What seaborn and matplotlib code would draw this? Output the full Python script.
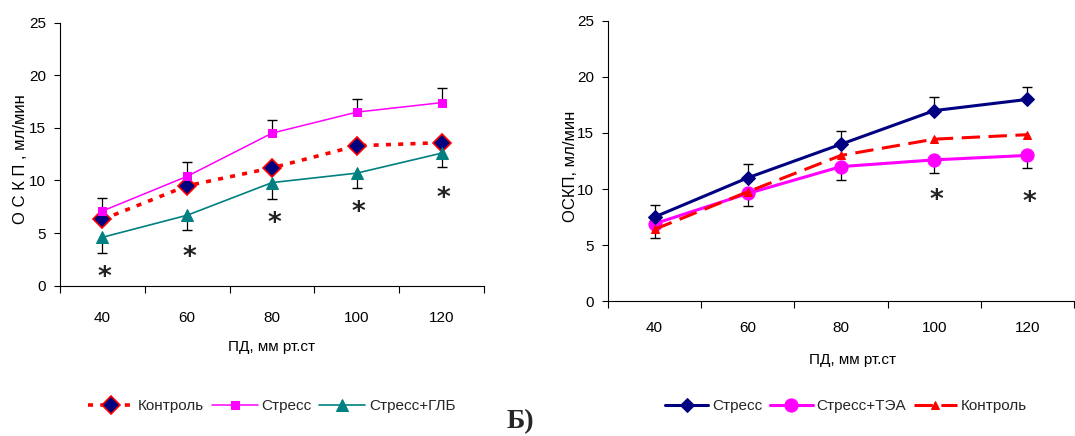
import numpy as np
import matplotlib
matplotlib.use("Agg")
import matplotlib.pyplot as plt
from matplotlib.ticker import FixedLocator, NullFormatter, FixedFormatter
from matplotlib.transforms import offset_copy
import seaborn as sns

# ---------------- data ----------------
categories = ["40", "60", "80", "100", "120"]

# panel A
control_a = [6.3, 9.5, 11.2, 13.3, 13.6]
stress_a = [7.1, 10.4, 14.5, 16.5, 17.4]
stress_a_se = [1.2, 1.35, 1.25, 1.2, 1.4]
glb_a = [4.6, 6.7, 9.8, 10.7, 12.6]
glb_a_se = [1.5, 1.45, 1.6, 1.45, 1.35]
star_a_idx = [0, 1, 2, 3, 4]
star_a_y = [1.3, 3.2, 6.4, 7.5, 8.8]

# panel B
stress_b = [7.5, 11.0, 14.0, 17.0, 18.0]
stress_b_se = [1.1, 1.25, 1.2, 1.2, 1.15]
tea_b = [6.9, 9.6, 12.0, 12.6, 13.0]
tea_b_se = [1.25, 1.1, 1.2, 1.2, 1.15]
control_b = [6.4, 9.75, 13.0, 14.45, 14.85]
star_b_idx = [3, 4]
star_b_y = [9.5, 9.3]

labels_a = ["Контроль", "Стресс", "Стресс+ГЛБ"]
labels_b = ["Стресс", "Стресс+ТЭА", "Контроль"]
xlabel = "ПД, мм рт.ст"
ylabel_a = "О С К П , мл/мин"
ylabel_b = "ОСКП, мл/мин"
yticks = [0, 5, 10, 15, 20, 25]

# ---------------- style ----------------
sns.set_theme(style="ticks")
FONT = ["Liberation Sans", "DejaVu Sans"]
plt.rcParams["font.family"] = FONT
plt.rcParams["axes.linewidth"] = 0.8
plt.rcParams["axes.edgecolor"] = "black"
FS = 11

fig = plt.figure(figsize=(10.75, 4.36), dpi=100)
W, H = 1075, 436
ax_a = fig.add_axes([60 / W, (H - 285.7) / H, 424 / W, 263 / H])
ax_b = fig.add_axes([608 / W, (H - 301) / H, 466 / W, 280 / H])

pos = np.arange(len(categories))


def err_up(ax, y, se):
    y = np.asarray(y)
    se = np.asarray(se)
    ax.vlines(pos, y, y + se, color="black", lw=0.9, zorder=1)
    ax.plot(pos, y + se, ls="none", marker="_", ms=7, mew=1.0, color="black", zorder=1)


def err_down(ax, y, se):
    y = np.asarray(y)
    se = np.asarray(se)
    ax.vlines(pos, y - se, y, color="black", lw=0.9, zorder=1)
    ax.plot(pos, y - se, ls="none", marker="_", ms=7, mew=1.0, color="black", zorder=1)


def stars(ax, idx, ys):
    tr = offset_copy(ax.transData, fig=fig, x=2, y=-6, units="dots")
    for i, yy in zip(idx, ys):
        ax.text(pos[i], yy, "*", ha="center", va="center", fontsize=19,
                fontweight="bold", family="DejaVu Sans", color="#222222",
                transform=tr)


def style_axes(ax, tickpad, ylabel):
    sns.despine(ax=ax)
    ax.set_xlim(-0.5, len(categories) - 0.5)
    ax.set_ylim(0, 25)
    ax.set_yticks(yticks)
    ax.tick_params(axis="y", labelsize=FS, length=4, width=0.8, pad=6, colors="black")
    ax.xaxis.set_major_locator(FixedLocator(np.arange(len(categories) + 1) - 0.5))
    ax.xaxis.set_major_formatter(NullFormatter())
    ax.xaxis.set_minor_locator(FixedLocator(pos))
    ax.xaxis.set_minor_formatter(FixedFormatter(categories))
    ax.tick_params(axis="x", which="major", length=5, width=0.8, color="black")
    ax.tick_params(axis="x", which="minor", length=0, labelsize=FS, pad=tickpad, labelcolor="black")
    ax.set_xlabel(xlabel, fontsize=FS, color="black")
    ax.set_ylabel(ylabel, fontsize=12, color="black")
    ax.grid(False)
    ax.set_facecolor("white")


# ---------------- panel A ----------------
err_up(ax_a, stress_a, stress_a_se)
err_down(ax_a, glb_a, glb_a_se)
sns.lineplot(x=pos, y=control_a, ax=ax_a, color="red", lw=2.6,
             linestyle=(0, (1.4, 2.0)), marker="D", markersize=9,
             markerfacecolor="#000080", markeredgecolor="red", markeredgewidth=1.2,
             label=labels_a[0], zorder=3)
sns.lineplot(x=pos, y=stress_a, ax=ax_a, color="#FF00FF", lw=1.1,
             marker="s", markersize=6, markerfacecolor="#FF00FF",
             markeredgecolor="#FF00FF", label=labels_a[1], zorder=4)
sns.lineplot(x=pos, y=glb_a, ax=ax_a, color="#008080", lw=1.2,
             marker="^", markersize=9, markerfacecolor="#008080",
             markeredgecolor="#008080", label=labels_a[2], zorder=4)
stars(ax_a, star_a_idx, star_a_y)

style_axes(ax_a, 18.5, ylabel_a)
ax_a.yaxis.set_label_coords(-0.075, 0.48)
ax_a.xaxis.set_label_coords(0.5, -0.206)

# ---------------- panel B ----------------
err_up(ax_b, stress_b, stress_b_se)
err_down(ax_b, tea_b, tea_b_se)
sns.lineplot(x=pos, y=stress_b, ax=ax_b, color="#000080", lw=2.2,
             marker="D", markersize=7, markerfacecolor="#000080",
             markeredgecolor="#000080", label=labels_b[0], zorder=4)
sns.lineplot(x=pos, y=tea_b, ax=ax_b, color="#FF00FF", lw=2.2,
             marker="o", markersize=9.5, markerfacecolor="#FF00FF",
             markeredgecolor="#FF00FF", label=labels_b[1], zorder=3)
sns.lineplot(x=pos, y=control_b, ax=ax_b, color="red", lw=2.2,
             linestyle=(0, (6.0, 2.8)), marker="^", markersize=6,
             markerfacecolor="red", markeredgecolor="red",
             label=labels_b[2], zorder=3)
stars(ax_b, star_b_idx, star_b_y)

style_axes(ax_b, 14.5, ylabel_b)
ax_b.yaxis.set_label_coords(-0.064, 0.48)
ax_b.xaxis.set_label_coords(0.524, -0.186)

# ---------------- legends ----------------
for ax, cx, hl in ((ax_a, 272, 3.0), (ax_b, 846, 2.8)):
    h, l = ax.get_legend_handles_labels()
    if ax.get_legend() is not None:
        ax.get_legend().remove()
    fig.legend(h, l, loc="center", bbox_to_anchor=(cx / W, (H - 406) / H),
               ncol=3, frameon=False, fontsize=FS, handlelength=hl,
               handletextpad=0.25, columnspacing=0.5, borderaxespad=0)

fig.text(520 / W, (H - 422) / H, "Б)", ha="center", va="center",
         fontsize=20, fontweight="bold", family=["Liberation Serif", "DejaVu Serif"])

fig.savefig("out.png", dpi=100, facecolor="white")
